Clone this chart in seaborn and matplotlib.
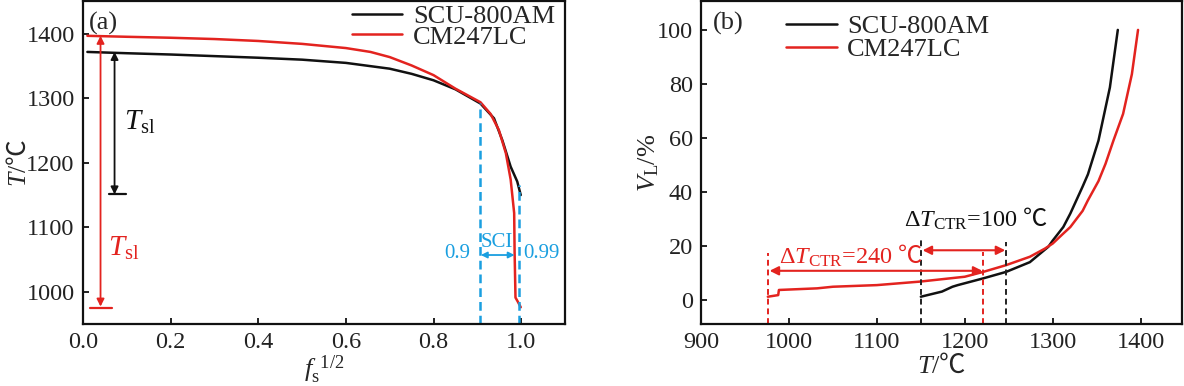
import numpy as np
import pandas as pd
import matplotlib
matplotlib.use("Agg")
import matplotlib.pyplot as plt
import seaborn as sns

# ---------------- data ----------------
# Panel (a): temperature vs f_s^(1/2)
scu_fs = [0.01, 0.1, 0.2, 0.3, 0.4, 0.5, 0.6, 0.7, 0.75, 0.8, 0.85, 0.907, 0.938, 0.957,
          0.976, 0.991, 0.999]
scu_T = [1372, 1370, 1368, 1365.5, 1363, 1360, 1355, 1346, 1338, 1328, 1314, 1292, 1269,
         1235, 1194, 1171, 1150]
cm_fs = [0.01, 0.1, 0.2, 0.3, 0.4, 0.5, 0.6, 0.656, 0.7, 0.75, 0.8, 0.85, 0.907, 0.930,
         0.949, 0.965, 0.976, 0.984, 0.985, 0.987, 0.992, 0.999]
cm_T = [1397, 1395.5, 1394, 1392, 1389, 1384.5, 1378, 1372, 1364, 1351, 1336, 1315, 1294,
        1276, 1251, 1215, 1174, 1122, 1061, 991, 985, 976]

# Panel (b): liquid volume fraction vs temperature
scu_temp = [1150, 1174, 1186, 1192, 1221, 1247, 1274, 1295, 1300, 1312, 1320, 1334, 1340,
            1352, 1365, 1374]
scu_vl = [1.2, 3.1, 4.9, 5.5, 8.0, 10.4, 14, 19.7, 22, 27, 32, 42, 46.5, 59, 78.7, 100]
cm_temp = [976, 987.8, 988.6, 1032, 1050, 1100, 1149, 1200, 1221, 1247, 1274, 1291, 1300,
           1312, 1320, 1334, 1340, 1352, 1360, 1369, 1380, 1390, 1397]
cm_vl = [1.2, 1.8, 3.7, 4.3, 4.9, 5.5, 6.8, 8.6, 10.4, 12.9, 16, 19, 20.9, 24.6, 27, 33,
         36.9, 44, 50.4, 59, 68.9, 83.6, 100]

names = ["SCU-800AM", "CM247LC"]
colors = {"SCU-800AM": "#111111", "CM247LC": "#E3231F"}
BLUE = "#1A9FE0"
RED = colors["CM247LC"]

# annotation values
tsl_scu = (1372, 1151)
tsl_cm = (1397, 975)
ctr_scu = (1150, 1247)
ctr_cm = (976, 1221)

dfa = pd.DataFrame({
    "fs": scu_fs + cm_fs,
    "T": scu_T + cm_T,
    "alloy": [names[0]] * len(scu_fs) + [names[1]] * len(cm_fs),
})
dfb = pd.DataFrame({
    "T": scu_temp + cm_temp,
    "VL": scu_vl + cm_vl,
    "alloy": [names[0]] * len(scu_temp) + [names[1]] * len(cm_temp),
})

# ---------------- style ----------------
sns.set_theme(style="white")
plt.rcParams["font.family"] = ["Liberation Serif", "Noto Sans CJK SC", "DejaVu Sans"]
plt.rcParams["mathtext.fontset"] = "custom"
plt.rcParams["mathtext.rm"] = "Liberation Serif"
plt.rcParams["mathtext.it"] = "Liberation Serif:italic"
plt.rcParams["mathtext.bf"] = "Liberation Serif:bold"
plt.rcParams["mathtext.sf"] = "Noto Sans CJK SC"
plt.rcParams["mathtext.fallback"] = "stix"
plt.rcParams["axes.linewidth"] = 1.6
plt.rcParams["xtick.direction"] = "in"
plt.rcParams["ytick.direction"] = "in"

DEGC = r"$\mathsf{℃}$"

W, H = 1184, 386
fig = plt.figure(figsize=(W / 100, H / 100), dpi=100)
axa = fig.add_axes([83 / W, 62 / H, 482 / W, 323 / H])
axb = fig.add_axes([701 / W, 62 / H, 481 / W, 323 / H])

TICK_FS = 17.5
LEG_FS = 19

# ---------------- panel (a) ----------------
sns.lineplot(data=dfa, x="fs", y="T", hue="alloy", hue_order=names, palette=colors,
             ax=axa, linewidth=1.8, sort=False, estimator=None)
axa.set_xlim(0, 1.1)
axa.set_ylim(950, 1451)
axa.set_xticks([0.0, 0.2, 0.4, 0.6, 0.8, 1.0])
axa.set_xticklabels([f"{v:.1f}" for v in [0.0, 0.2, 0.4, 0.6, 0.8, 1.0]])
axa.set_yticks([1000, 1100, 1200, 1300, 1400])
axa.set_xlabel(r"$f_{\mathrm{s}}^{\ \,1/2}$", fontsize=19, labelpad=0)
axa.set_ylabel(r"$T$/" + DEGC, fontsize=18.5)
axa.yaxis.set_label_coords(-0.108, 0.5)

# T_sl markers
ar = dict(arrowstyle="<|-|>", lw=1.3, mutation_scale=11, shrinkA=0, shrinkB=0)
axa.annotate("", xy=(0.072, tsl_scu[1]), xytext=(0.072, tsl_scu[0]),
             arrowprops=dict(ar, color="#111111"))
axa.plot([0.059, 0.098], [tsl_scu[1], tsl_scu[1]], color="#111111", lw=1.6)
axa.annotate("", xy=(0.04, tsl_cm[1] + 2), xytext=(0.04, tsl_cm[0]),
             arrowprops=dict(ar, color=RED))
axa.plot([0.016, 0.067], [tsl_cm[1], tsl_cm[1]], color=RED, lw=1.6)
axa.text(0.093, 1262, r"$T_{\mathrm{sl}}$", fontsize=21, color="#111111", va="center")
axa.text(0.057, 1068, r"$T_{\mathrm{sl}}$", fontsize=21, color=RED, va="center")

# SCI
axa.plot([0.905, 0.905], [950, 1293], color=BLUE, lw=1.8, ls=(0, (3.5, 2)))
axa.plot([0.994, 0.994], [950, 1166], color=BLUE, lw=1.8, ls=(0, (3.5, 2)))
axa.annotate("", xy=(0.985, 1057), xytext=(0.908, 1057),
             arrowprops=dict(arrowstyle="<|-|>", color=BLUE, lw=1.3, mutation_scale=9,
                             shrinkA=0, shrinkB=0))
axa.text(0.855, 1059, "0.9", color=BLUE, fontsize=15, ha="center", va="center")
axa.text(1.046, 1059, "0.99", color=BLUE, fontsize=15, ha="center", va="center")
axa.text(0.944, 1076, "SCI", color=BLUE, fontsize=15, ha="center", va="center")
axa.text(0.012, 0.965, "(a)", transform=axa.transAxes, fontsize=19, va="top", ha="left")

# ---------------- panel (b) ----------------
sns.lineplot(data=dfb, x="T", y="VL", hue="alloy", hue_order=names, palette=colors,
             ax=axb, linewidth=1.8, sort=False, estimator=None)
axb.set_xlim(900, 1447)
axb.set_ylim(-8.9, 110.7)
axb.set_xticks([900, 1000, 1100, 1200, 1300, 1400])
axb.set_yticks([0, 20, 40, 60, 80, 100])
axb.set_xlabel(r"$T$/" + DEGC, fontsize=19, labelpad=0)
axb.set_ylabel(r"$V_{\mathrm{L}}$/%", fontsize=19)
axb.yaxis.set_label_coords(-0.083, 0.5)

dash = (0, (3, 2))
for x, top, c in [(ctr_cm[0], 17.4, RED), (ctr_cm[1], 17.6, RED),
                  (ctr_scu[0], 23.4, "#222222"), (ctr_scu[1], 21.5, "#222222")]:
    axb.plot([x, x], [-8.9, top], color=c, lw=1.4, ls=dash)
arb = dict(arrowstyle="<|-|>", color=RED, lw=1.5, mutation_scale=13, shrinkA=0, shrinkB=0)
axb.annotate("", xy=(ctr_cm[0] + 2, 10.8), xytext=(ctr_cm[1] - 1, 10.8), arrowprops=arb)
axb.annotate("", xy=(ctr_scu[0] + 2, 18.4), xytext=(ctr_scu[1] - 1, 18.4), arrowprops=arb)
axb.text(1131, 30, r"$\Delta T_{\mathrm{CTR}}$=100 " + DEGC, fontsize=17.5, color="#111111",
         ha="left", va="center")
axb.text(989, 16.4, r"$\Delta T_{\mathrm{CTR}}$=240 " + DEGC, fontsize=17.5, color=RED,
         ha="left", va="center")
axb.text(0.025, 0.965, "(b)", transform=axb.transAxes, fontsize=19, va="top", ha="left")

# ---------------- common styling ----------------
for ax in (axa, axb):
    for s in ax.spines.values():
        s.set_visible(True)
        s.set_color("#111111")
        s.set_linewidth(1.6)
    ax.tick_params(axis="both", which="major", labelsize=TICK_FS, length=4.5, width=1.3,
                   colors="#111111", pad=6, top=False, right=False, bottom=True, left=True)
    for lab in ax.get_xticklabels() + ax.get_yticklabels():
        lab.set_color("#222222")

h, l = axa.get_legend_handles_labels()
axa.legend(h, l, loc="upper right", bbox_to_anchor=(0.985, 0.998), frameon=False,
           fontsize=LEG_FS, handlelength=1.9, handletextpad=0.4, labelspacing=-0.1,
           borderpad=0.1, borderaxespad=0)
h, l = axb.get_legend_handles_labels()
axb.legend(h, l, loc="upper left", bbox_to_anchor=(0.172, 0.965), frameon=False,
           fontsize=LEG_FS, handlelength=1.9, handletextpad=0.4, labelspacing=-0.02,
           borderpad=0.1, borderaxespad=0)

fig.savefig("out.png", dpi=100)
